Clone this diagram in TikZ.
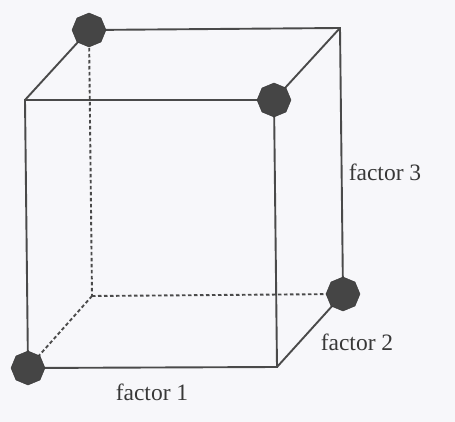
\documentclass[tikz,border=0pt]{standalone}
\usepackage{fontspec}
\setmainfont{Liberation Serif}
\usetikzlibrary{shapes.geometric}
\definecolor{edge}{HTML}{4A4A4A}
\definecolor{dotc}{HTML}{454545}
\definecolor{bg}{HTML}{F7F7FA}
\begin{document}
\begin{tikzpicture}[x=1pt,y=-1pt,
  edgeline/.style={draw=edge,line width=1.9pt},
  hidden/.style={draw=edge,line width=1.9pt,dash pattern=on 3.5pt off 2.5pt},
  corner/.style={regular polygon,regular polygon sides=8,fill=dotc,draw=dotc!80!black,minimum size=34pt,inner sep=0pt,shape border rotate=22.5},
  lbl/.style={font=\fontsize{23.5}{26}\selectfont,text=black!78,inner sep=0pt}]
\fill[bg] (0,0) rectangle (455,422);
\useasboundingbox (0,0) rectangle (455,422);
% front face
\coordinate (ftl) at (25,100);
\coordinate (ftr) at (274,100);
\coordinate (fbl) at (28,368);
\coordinate (fbr) at (277,367);
% back face
\coordinate (btl) at (89,30);
\coordinate (btr) at (340,28);
\coordinate (bbr) at (343,294);
\coordinate (bbl) at (92,296);
% hidden edges
\draw[hidden] (btl) -- (bbl);
\draw[hidden] (bbl) -- (bbr);
\draw[hidden] (bbl) -- (fbl);
% visible edges
\draw[edgeline] (ftl) -- (ftr) -- (fbr) -- (fbl) -- cycle;
\draw[edgeline] (btl) -- (btr) -- (bbr);
\draw[edgeline] (ftl) -- (btl);
\draw[edgeline] (ftr) -- (btr);
\draw[edgeline] (fbr) -- (bbr);
% corner dots
\node[corner] (d1) at (btl) {};
\node[corner] (d2) at (ftr) {};
\node[corner] (d3) at (bbr) {};
\node[corner] (d4) at (fbl) {};
% labels
\node[lbl] (f3) at (385,172) {factor 3};
\node[lbl] (f2) at (357,342) {factor 2};
\node[lbl] (f1) at (152,392) {factor 1};
\end{tikzpicture}
\end{document}
